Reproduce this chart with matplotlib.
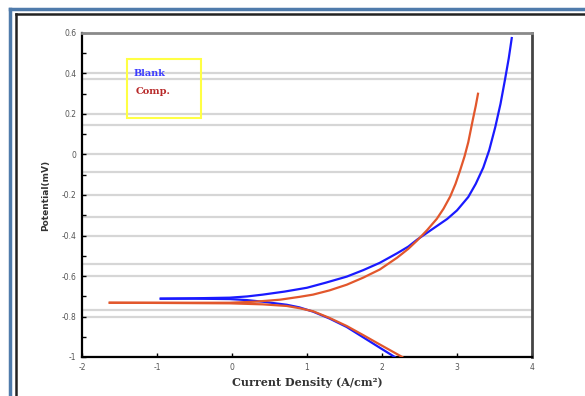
import matplotlib
matplotlib.use("Agg")
import matplotlib.pyplot as plt
from matplotlib.lines import Line2D
from matplotlib.patches import Rectangle

# Blank - anodic branch (log i, E)
blank_an_x = [-0.95, -0.5, -0.03, 0.2, 0.41, 0.7, 1.0, 1.25, 1.53, 1.75, 1.97, 2.2, 2.35, 2.47,
              2.65, 2.87, 3.0, 3.15, 3.25, 3.35, 3.43, 3.51, 3.58, 3.64, 3.69, 3.73]
blank_an_y = [-0.712, -0.71, -0.707, -0.701, -0.692, -0.677, -0.658, -0.633, -0.603, -0.571, -0.535,
              -0.488, -0.455, -0.42, -0.374, -0.318, -0.276, -0.21, -0.145, -0.065, 0.022, 0.135,
              0.25, 0.37, 0.475, 0.575]
# Blank - cathodic branch
blank_ca_x = [-0.95, -0.5, -0.03, 0.2, 0.41, 0.73, 0.9, 1.08, 1.3, 1.53, 1.75, 1.97, 2.17]
blank_ca_y = [-0.712, -0.712, -0.714, -0.719, -0.727, -0.742, -0.755, -0.776, -0.81, -0.852, -0.903, -0.954, -1.0]

# Comp. - anodic branch
comp_an_x = [-1.63, -1.0, -0.03, 0.3, 0.64, 0.9, 1.08, 1.3, 1.53, 1.75, 1.97, 2.2, 2.35, 2.47,
             2.6, 2.73, 2.82, 2.91, 2.98, 3.04, 3.1, 3.15, 3.21, 3.25, 3.28]
comp_an_y = [-0.732, -0.732, -0.732, -0.727, -0.717, -0.703, -0.692, -0.671, -0.643, -0.608, -0.568,
             -0.51, -0.466, -0.424, -0.374, -0.318, -0.268, -0.207, -0.145, -0.08, -0.01, 0.06,
             0.17, 0.24, 0.30]
# Comp. - cathodic branch
comp_ca_x = [-1.63, -1.0, -0.03, 0.41, 0.73, 0.9, 1.08, 1.3, 1.53, 1.75, 1.97, 2.27]
comp_ca_y = [-0.732, -0.733, -0.735, -0.74, -0.748, -0.759, -0.774, -0.807, -0.847, -0.892, -0.938, -1.0]

x_ticks = [-2, -1, 0, 1, 2, 3, 4]
y_ticks = [-1, -0.8, -0.6, -0.4, -0.2, 0, 0.2, 0.4, 0.6]
y_ticklabels = ["-1", "-0.8", "-0.6", "-0.4", "-0.2", "0", "0.2", "0.4", "0.6"]
# second (offset) set of grid lines seen in the picture
extra_grid = [0.372, 0.145, -0.088, -0.311, -0.539, -0.766]

blue = "#1a1aff"
red = "#e2572c"

W, H = 585, 396
fig = plt.figure(figsize=(W / 100, H / 100), dpi=100)
fig.patch.set_facecolor("white")

# outer frame (blue + black double line, cut at right/bottom)
def fx(p):
    return p / W

def fy(p):
    return 1 - p / H

fig.add_artist(Line2D([fx(10), fx(10)], [fy(9), 0], transform=fig.transFigure, color="#4f7bab", lw=2.5))
fig.add_artist(Line2D([fx(10), 1], [fy(9), fy(9)], transform=fig.transFigure, color="#4f7bab", lw=2.5))
fig.add_artist(Line2D([fx(16), fx(16)], [fy(14), 0], transform=fig.transFigure, color="#222222", lw=1.8))
fig.add_artist(Line2D([fx(16), 1], [fy(14), fy(14)], transform=fig.transFigure, color="#222222", lw=1.8))

ax = fig.add_axes([82 / W, 1 - 357 / H, 450 / W, 324 / H])

for y in y_ticks + extra_grid:
    ax.axhline(y, color="#d6d6d6", lw=1.6, zorder=0)

ax.plot(blank_an_x, blank_an_y, color=blue, lw=1.6, zorder=3)
ax.plot(blank_ca_x, blank_ca_y, color=blue, lw=1.6, zorder=3)
ax.plot(comp_an_x, comp_an_y, color=red, lw=1.6, zorder=4)
ax.plot(comp_ca_x, comp_ca_y, color=red, lw=1.6, zorder=4)

ax.set_xlim(-2, 4)
ax.set_ylim(-1, 0.6)
ax.set_xticks(x_ticks)
ax.set_xticklabels([str(v) for v in x_ticks])
ax.set_yticks(y_ticks)
ax.set_yticklabels(y_ticklabels)
ax.set_yticks([-0.9, -0.7, -0.5, -0.3, -0.1, 0.1, 0.3, 0.5], minor=True)
ax.tick_params(axis="both", which="major", direction="in", length=3, width=1,
               labelsize=5.5, labelcolor="#555555", pad=4)
ax.tick_params(axis="y", which="minor", direction="in", length=3, width=1)

ax.spines["left"].set_linewidth(1.6)
ax.spines["bottom"].set_linewidth(1.6)
ax.spines["top"].set_color("#8a8a8a")
ax.spines["top"].set_linewidth(2)
ax.spines["right"].set_color("#444444")
ax.spines["right"].set_linewidth(2)

ax.set_xlabel("Current Density (A/cm²)", fontsize=8, fontweight="bold",
              family="DejaVu Serif", color="#333333", labelpad=4)
ax.set_ylabel("Potential(mV)", fontsize=6.5, fontweight="bold", color="#333333", labelpad=8)

# legend box
ax.add_patch(Rectangle((127 / W, 1 - 118 / H), 74 / W, 59 / H, transform=fig.transFigure,
                       fill=False, edgecolor="#ffff44", lw=1.5, zorder=5))
fig.text(134 / W, 1 - 74 / H, "Blank", color="#3b3bff", fontsize=7, fontweight="bold",
         family="DejaVu Serif", va="center")
fig.text(136 / W, 1 - 91 / H, "Comp.", color="#b82a2a", fontsize=7, fontweight="bold",
         family="DejaVu Serif", va="center")

fig.savefig("out.png", dpi=100)
